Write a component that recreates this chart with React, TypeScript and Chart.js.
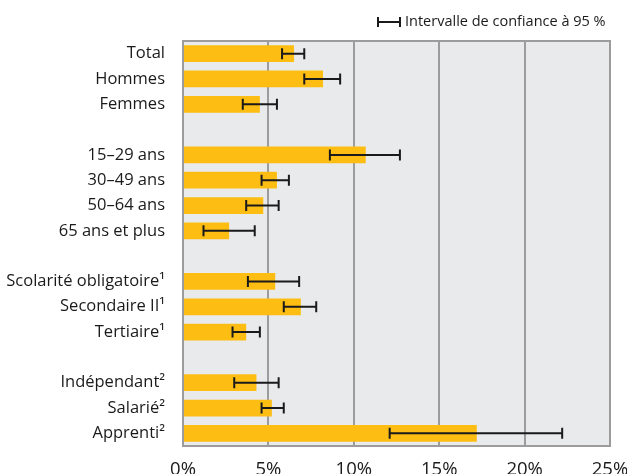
import { useEffect, useRef } from "react";
import { Chart, registerables } from "chart.js";
Chart.register(...registerables);

const categories = [
  "Total", "Hommes", "Femmes", "",
  "15–29 ans", "30–49 ans", "50–64 ans", "65 ans et plus", "",
  "Scolarité obligatoire¹", "Secondaire II¹", "Tertiaire¹", "",
  "Indépendant²", "Salarié²", "Apprenti²",
];
const rates = [6.5, 8.2, 4.5, null, 10.7, 5.5, 4.7, 2.7, null, 5.4, 6.9, 3.7, null, 4.3, 5.2, 17.2];
const ciLow = [5.8, 7.1, 3.5, null, 8.6, 4.6, 3.7, 1.2, null, 3.8, 5.9, 2.9, null, 3.0, 4.6, 12.1];
const ciHigh = [7.1, 9.2, 5.5, null, 12.7, 6.2, 5.6, 4.2, null, 6.8, 7.8, 4.5, null, 5.6, 5.9, 22.2];
const xTickMax = 25;
const xTickStep = 5;
const legendLabel = "Intervalle de confiance à 95 %";

const FONT = "'Open Sans', 'Noto Sans', sans-serif";
const TEXT = "#1a1a1a";
const GRID = "#9c9c9c";

const framePlugin = {
  id: "frame",
  beforeDraw(chart: any) {
    const { ctx, chartArea: a } = chart;
    ctx.save();
    ctx.fillStyle = "#e9eaec";
    ctx.fillRect(a.left, a.top, a.right - a.left, a.bottom - a.top);
    ctx.restore();
  },
  afterDraw(chart: any) {
    const { ctx, chartArea: a } = chart;
    ctx.save();
    ctx.strokeStyle = GRID;
    ctx.lineWidth = 2;
    ctx.strokeRect(a.left, a.top, a.right - a.left, a.bottom - a.top);
    // legend
    ctx.strokeStyle = TEXT;
    ctx.lineWidth = 2;
    const y = 22;
    const x1 = 378, x2 = 400;
    ctx.beginPath();
    ctx.moveTo(x1, y); ctx.lineTo(x2, y);
    ctx.moveTo(x1, y - 5); ctx.lineTo(x1, y + 5);
    ctx.moveTo(x2, y - 5); ctx.lineTo(x2, y + 5);
    ctx.stroke();
    ctx.fillStyle = TEXT;
    ctx.font = `14.5px ${FONT}`;
    ctx.textBaseline = "middle";
    ctx.textAlign = "left";
    ctx.fillText(legendLabel, 405, y);
    ctx.restore();
  },
};

const errorBarPlugin = {
  id: "errorBars",
  afterDatasetsDraw(chart: any) {
    const { ctx } = chart;
    const xs = chart.scales.x;
    const ys = chart.scales.y;
    ctx.save();
    ctx.strokeStyle = TEXT;
    ctx.lineWidth = 2;
    for (let i = 0; i < categories.length; i++) {
      const lo = ciLow[i], hi = ciHigh[i];
      if (lo == null || hi == null) continue;
      const y = ys.getPixelForValue(i);
      const a = xs.getPixelForValue(lo);
      const b = xs.getPixelForValue(hi);
      ctx.beginPath();
      ctx.moveTo(a, y); ctx.lineTo(b, y);
      ctx.moveTo(a, y - 5.5); ctx.lineTo(a, y + 5.5);
      ctx.moveTo(b, y - 5.5); ctx.lineTo(b, y + 5.5);
      ctx.stroke();
    }
    ctx.restore();
  },
};

export default function App() {
  const ref = useRef<HTMLCanvasElement>(null);
  useEffect(() => {
    document.body.style.margin = "0";
    if (!ref.current) return;
    const chart = new Chart(ref.current, {
      type: "bar",
      data: {
        labels: categories,
        datasets: [
          {
            data: rates as any,
            backgroundColor: "#fdbd12",
            borderWidth: 0,
            barPercentage: 1,
            categoryPercentage: 0.66,
          },
        ],
      },
      options: {
        indexAxis: "y",
        responsive: false,
        animation: false,
        layout: { padding: { top: 41, right: 17, left: 0, bottom: 0 } },
        plugins: { legend: { display: false }, tooltip: { enabled: false } },
        scales: {
          x: {
            min: 0,
            max: xTickMax,
            position: "bottom",
            ticks: {
              stepSize: xTickStep,
              callback: (v: any) => `${v}%`,
              font: { size: 18.5, family: FONT },
              color: TEXT,
              padding: 13,
              maxRotation: 0,
            },
            grid: { color: GRID, lineWidth: 2, drawTicks: false },
            border: { display: false },
            afterFit: (s: any) => {
              s.height = 28;
              s.paddingLeft = 0;
              s.paddingRight = 0;
            },
          },
          y: {
            ticks: {
              font: { size: 16.5, family: FONT },
              color: TEXT,
              padding: 10,
              autoSkip: false,
            },
            grid: { display: false },
            border: { display: false },
            afterFit: (s: any) => { s.width = 183; },
          },
        },
      },
      plugins: [framePlugin, errorBarPlugin],
    });
    return () => chart.destroy();
  }, []);
  return <canvas ref={ref} width={627} height={474} style={{ display: "block" }} />;
}
